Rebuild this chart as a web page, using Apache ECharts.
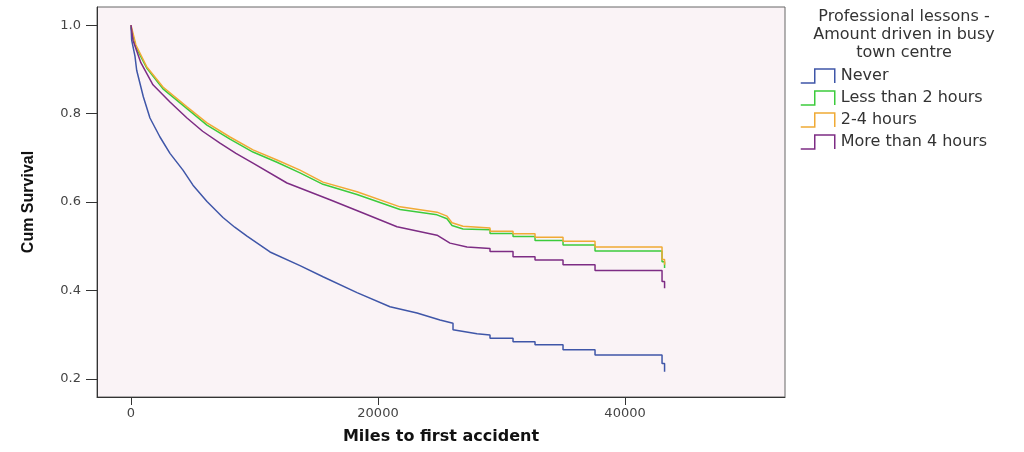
<!DOCTYPE html>
<html>
<head>
<meta charset="utf-8">
<script src="https://cdn.jsdelivr.net/npm/echarts@6/dist/echarts.min.js"></script>
<style>
  html, body { margin: 0; padding: 0; background: #fff; }
  #chart { width: 1024px; height: 452px; }
</style>
</head>
<body>
<div id="chart"></div>
<script>
// survival curves: [miles, cumulative survival]
const never = [[0,1.0],[57,0.966],[324,0.93],[462,0.898],[1000,0.838],[1538,0.79],[2348,0.747],[3158,0.71],[4210,0.672],[5020,0.638],[6154,0.601],[7449,0.565],[8400,0.543],[9393,0.523],[11255,0.487],[13684,0.456],[15546,0.431],[18299,0.395],[20971,0.363],[23157,0.349],[25020,0.333],[26072,0.326],[26072,0.311],[28016,0.302],[29068,0.299],[29068,0.292],[30931,0.292],[30931,0.284],[32712,0.284],[32712,0.277],[34979,0.277],[34979,0.266],[37570,0.266],[37570,0.254],[42995,0.254],[42995,0.235],[43200,0.235],[43200,0.216]];
const lessThan2 = [[0,0.995],[400,0.95],[1271,0.903],[2591,0.856],[4534,0.811],[6154,0.774],[8016,0.742],[9878,0.713],[11822,0.69],[13684,0.666],[15546,0.64],[18299,0.617],[21781,0.583],[24777,0.571],[25586,0.562],[25991,0.547],[26882,0.539],[29068,0.537],[29068,0.529],[30931,0.529],[30931,0.522],[32712,0.522],[32712,0.513],[34979,0.513],[34979,0.503],[37570,0.503],[37570,0.489],[42995,0.489],[42995,0.465],[43200,0.465],[43200,0.451]];
const twoToFour = [[0,1.0],[400,0.955],[1271,0.906],[2591,0.86],[4534,0.815],[6154,0.779],[8016,0.747],[9878,0.718],[11822,0.695],[13684,0.672],[15546,0.645],[18299,0.623],[21781,0.589],[24777,0.577],[25586,0.568],[25991,0.553],[26882,0.545],[29068,0.541],[29068,0.534],[30931,0.534],[30931,0.528],[32712,0.528],[32712,0.52],[34979,0.52],[34979,0.511],[37570,0.511],[37570,0.498],[42995,0.498],[42995,0.47],[43200,0.47],[43200,0.458]];
const moreThan4 = [[0,1.0],[162,0.966],[800,0.915],[1781,0.865],[3158,0.826],[4534,0.79],[5800,0.76],[7206,0.733],[8500,0.71],[9878,0.688],[12631,0.643],[16113,0.605],[18785,0.575],[21538,0.544],[24777,0.525],[25829,0.507],[27206,0.498],[29068,0.495],[29068,0.488],[30931,0.488],[30931,0.476],[32712,0.476],[32712,0.469],[34979,0.469],[34979,0.458],[37570,0.458],[37570,0.445],[42995,0.445],[42995,0.42],[43200,0.42],[43200,0.405]];

const seriesNames = ['Never', 'Less than 2 hours', '2-4 hours', 'More than 4 hours'];
const seriesData = [never, lessThan2, twoToFour, moreThan4];
const colors = ['#3f56a8', '#3ccb3c', '#f0aa35', '#7d2c84'];
const xTicks = [0, 20000, 40000];
const yTicks = [0.2, 0.4, 0.6, 0.8, 1.0];
const legendTitle = ['Professional lessons -', 'Amount driven in busy', 'town centre'];

const myChart = echarts.init(document.getElementById('chart'));
const option = {
  animation: false,
  color: colors,
  grid: {
    left: 97, right: 239, top: 7, bottom: 55,
    show: true, backgroundColor: '#faf3f6', borderColor: '#666', borderWidth: 1
  },
  graphic: legendTitle.map((t, i) => ({
    type: 'text', x: 904, y: 9 + i * 18,
    style: { text: t, align: 'center', font: '16px "DejaVu Sans"', fill: '#333' }
  })),
  legend: {
    orient: 'vertical',
    left: 795, top: 63,
    itemWidth: 34, itemHeight: 14, itemGap: 6,
    icon: 'path://M0,14 L14,14 L14,0 L34,0 L34,14',
    textStyle: { fontFamily: 'DejaVu Sans', fontSize: 16, color: '#333', padding: [0, 0, 0, 1] },
    data: seriesNames.map((n, i) => ({
      name: n,
      itemStyle: { color: 'rgba(0,0,0,0)', borderColor: colors[i], borderWidth: 1.5 }
    }))
  },
  xAxis: {
    type: 'value',
    min: -2750, max: 52950,
    name: 'Miles to first accident',
    nameLocation: 'middle', nameGap: 32,
    nameTextStyle: { fontFamily: 'DejaVu Sans', fontWeight: 'bold', fontSize: 16, color: '#111' },
    axisLine: { show: true, onZero: false, lineStyle: { color: '#333' } },
    axisTick: { show: true, length: 8, customValues: xTicks, lineStyle: { color: '#333' } },
    axisLabel: { customValues: xTicks, formatter: v => String(v), fontFamily: 'DejaVu Sans', fontSize: 13, color: '#444', margin: 10 },
    splitLine: { show: false }
  },
  yAxis: {
    type: 'value',
    min: 0.159, max: 1.041,
    name: 'Cum Survival',
    nameLocation: 'middle', nameGap: 60, nameRotate: 90,
    nameTextStyle: { fontFamily: 'Liberation Sans', fontWeight: 'bold', fontSize: 16, color: '#111' },
    axisLine: { show: true, onZero: false, lineStyle: { color: '#333' } },
    axisTick: { show: true, length: 11, customValues: yTicks, lineStyle: { color: '#333' } },
    axisLabel: { customValues: yTicks, formatter: v => v.toFixed(1), fontFamily: 'DejaVu Sans', fontSize: 13, color: '#444', margin: 16 },
    splitLine: { show: false }
  },
  series: seriesNames.map((name, i) => ({
    name: name,
    type: 'line',
    data: seriesData[i],
    showSymbol: false,
    lineStyle: { width: 1.5, color: colors[i] }
  }))
};
option && myChart.setOption(option);
</script>
</body>
</html>
